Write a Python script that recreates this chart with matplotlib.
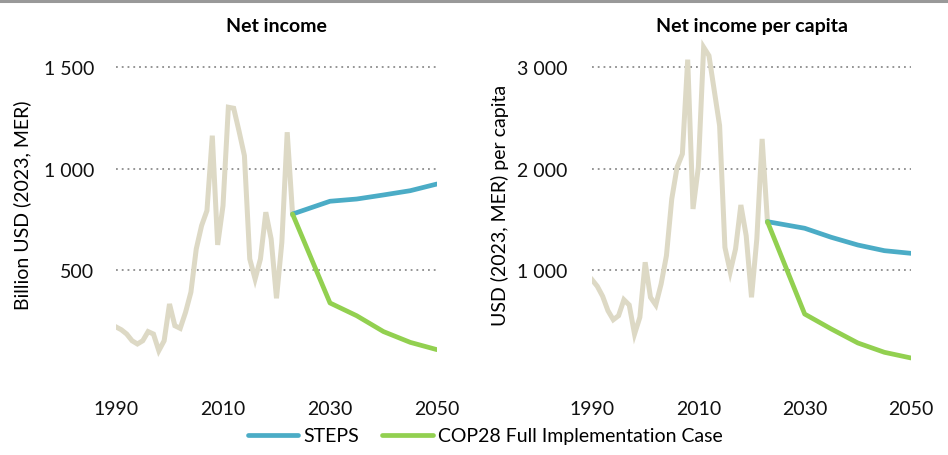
import matplotlib.pyplot as plt
from matplotlib.lines import Line2D
from matplotlib.ticker import FuncFormatter

# historical data
years_hist = [1990, 1991, 1992, 1993, 1994, 1995, 1996, 1997, 1998, 1999,
              2000, 2001, 2002, 2003, 2004, 2005, 2006, 2007, 2008, 2009,
              2010, 2011, 2012, 2013, 2014, 2015, 2016, 2017, 2018, 2019,
              2020, 2021, 2022, 2023]
income_hist = [222, 208, 187, 154, 138, 154, 199, 187, 105, 154,
               335, 228, 215, 294, 393, 606, 721, 795, 1164, 626,
               819, 1304, 1299, 1186, 1066, 557, 458, 557, 787, 655,
               363, 639, 1181, 778]
percap_hist = [909, 844, 746, 604, 515, 555, 712, 660, 374, 539,
               1081, 736, 660, 867, 1146, 1704, 2017, 2148, 3077, 1606,
               2017, 3199, 3116, 2771, 2427, 1228, 988, 1212, 1645, 1343,
               736, 1310, 2296, 1481]

# projections
years_proj = [2023, 2030, 2035, 2040, 2045, 2050]
income_steps = [778, 841, 852, 872, 893, 926]
income_cop28 = [778, 340, 277, 199, 146, 110]
percap_steps = [1481, 1416, 1327, 1251, 1195, 1169]
percap_cop28 = [1481, 571, 424, 286, 194, 138]

grey = '#DDD9C5'
blue = '#4BACC6'
green = '#92D050'

plt.rcParams['font.family'] = ['Lato', 'DejaVu Sans']
fs = 14

fig = plt.figure(figsize=(9.48, 4.56), dpi=100)

def fmt(v, pos):
    return '{:,.0f}'.format(v).replace(',', ' ')

def setup(ax, title, ylabel, ticks, top, ypad, lpad):
    ax.set_xlim(1990, 2050)
    ax.set_ylim(0, top)
    ax.set_xticks([1990, 2010, 2030, 2050])
    ax.set_yticks(ticks)
    ax.yaxis.set_major_formatter(FuncFormatter(fmt))
    ax.grid(axis='y', color='#8c8c8c', linestyle=(0, (1, 2.2)), linewidth=1.3)
    ax.set_axisbelow(True)
    for s in ax.spines.values():
        s.set_visible(False)
    ax.tick_params(length=0, labelsize=fs, colors='#111111')
    ax.tick_params(axis='x', pad=20)
    ax.tick_params(axis='y', pad=ypad)
    ax.set_title(title, fontsize=fs, fontweight='bold', pad=4)
    ax.set_ylabel(ylabel, fontsize=fs, labelpad=lpad)

ax1 = fig.add_axes([116/948, 1-373/456, 321/948, 335/456])
ax1.plot(years_hist, income_hist, color=grey, lw=3.6, solid_joinstyle='miter')
ax1.plot(years_proj, income_steps, color=blue, lw=3.4, solid_capstyle='round')
ax1.plot(years_proj, income_cop28, color=green, lw=3.4, solid_capstyle='round')
setup(ax1, 'Net income', 'Billion USD (2023, MER)', [500, 1000, 1500], 1650, 15.5, 9)

ax2 = fig.add_axes([592/948, 1-373/456, 319/948, 335/456])
ax2.plot(years_hist, percap_hist, color=grey, lw=3.6, solid_joinstyle='miter')
ax2.plot(years_proj, percap_steps, color=blue, lw=3.4, solid_capstyle='round')
ax2.plot(years_proj, percap_cop28, color=green, lw=3.4, solid_capstyle='round')
setup(ax2, 'Net income per capita', 'USD (2023, MER) per capita', [1000, 2000, 3000], 3300, 17.5, 6)

# top rule
fig.add_artist(Line2D([0, 1], [1-1.5/456, 1-1.5/456], color='#999999', lw=2.2,
                      transform=fig.transFigure))

handles = [Line2D([], [], color=blue, lw=3.4, solid_capstyle='round'),
           Line2D([], [], color=green, lw=3.4, solid_capstyle='round')]
fig.legend(handles, ['STEPS', 'COP28 Full Implementation Case'], loc='center',
           bbox_to_anchor=(485/948, 1-437/456), ncol=2, frameon=False,
           fontsize=fs, handlelength=2.6, handletextpad=0.25, columnspacing=1.2)

fig.savefig('out.png', dpi=100)
